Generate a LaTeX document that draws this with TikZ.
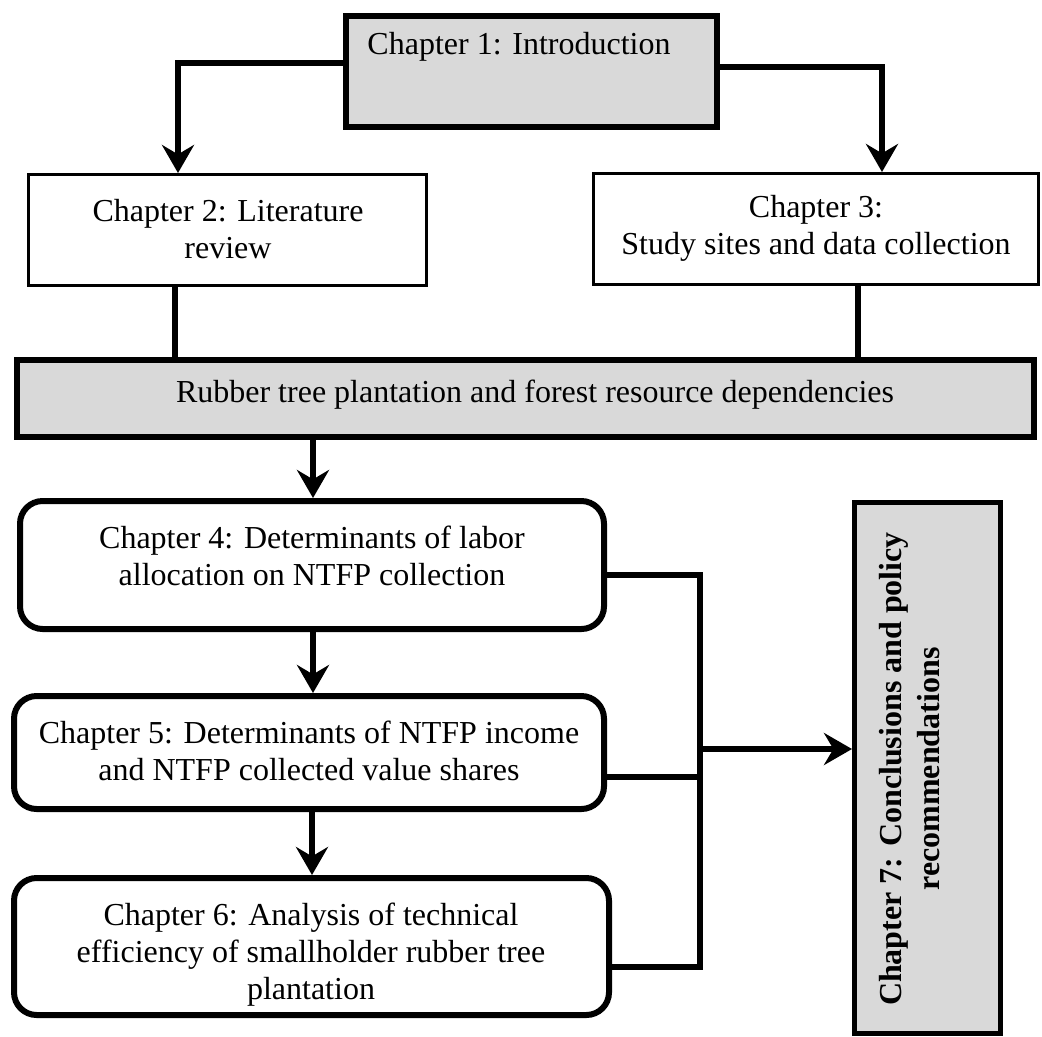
\documentclass[tikz,border=0pt]{standalone}
\usepackage{fontspec}
\setmainfont{Liberation Serif}
\usetikzlibrary{arrows.meta}
\definecolor{boxgray}{RGB}{217,217,217}
\begin{document}
\begin{tikzpicture}[x=0.75pt,y=-0.75pt,
  txt/.style={font=\fontsize{24}{27.75}\selectfont, align=center, inner sep=0pt},
  boldtxt/.style={font=\fontsize{24}{28.5}\selectfont\bfseries, align=center, inner sep=0pt},
  sqbox/.style={draw, line width=2.25pt, inner sep=0pt},
  graybox/.style={draw, line width=4.5pt, fill=boxgray, inner sep=0pt},
  rbox/.style={draw, line width=4.5pt, rounded corners=17pt, inner sep=0pt},
  conn/.style={line width=4pt},
  arr/.style={conn, -{Stealth[length=21pt,width=24pt,inset=7pt]}},
]
\useasboundingbox (0,0) rectangle (1042,1036);
% boxes
\node[graybox, minimum width=278.25pt, minimum height=83.25pt] (ch1) at (531.5,71.5) {};
\node[sqbox, minimum width=298.5pt, minimum height=83.25pt] (ch2) at (227.5,230) {};
\node[sqbox, minimum width=333.75pt, minimum height=83.25pt] (ch3) at (816,229) {};
\node[graybox, minimum width=762.75pt, minimum height=57.75pt] (rub) at (525.5,398.5) {};
\node[rbox, minimum width=438pt, minimum height=96pt] (ch4) at (312,565) {};
\node[rbox, minimum width=442.5pt, minimum height=84.75pt] (ch5) at (309,752.5) {};
\node[rbox, minimum width=446.25pt, minimum height=102.75pt] (ch6) at (311.5,946.5) {};
\node[graybox, line width=3.75pt, minimum width=109.5pt, minimum height=397.9pt] (ch7) at (927.5,767.75) {};
% texts
\node[txt] (t1) at (519,47) {Chapter 1: Introduction};
\node[txt] (t2) at (228,229) {Chapter 2: Literature\\review};
\node[txt] (t3) at (816,228) {Chapter 3:\\Study sites and data collection};
\node[txt] (tr) at (535,395) {Rubber tree plantation and forest resource dependencies};
\node[txt] (t4) at (312,556) {Chapter 4: Determinants of labor\\allocation on NTFP collection};
\node[txt] (t5) at (309,751) {Chapter 5: Determinants of NTFP income\\and NTFP collected value shares};
\node[txt] (t6) at (311,955) {Chapter 6: Analysis of technical\\efficiency of smallholder rubber tree\\plantation};
\node[boldtxt, rotate=90] (t7) at (910,769) {Chapter 7: Conclusions and policy\\recommendations};
% connectors
\draw[arr] (ch1.west |- 0,63) -| (178,0 |- ch2.north);
\draw[arr] (ch1.east |- 0,67) -| (882,0 |- ch3.north);
\draw[conn] (175,0 |- ch2.south) -- (175,0 |- rub.north);
\draw[conn] (858,0 |- ch3.south) -- (858,0 |- rub.north);
\draw[arr] (313,0 |- rub.south) -- (313,0 |- ch4.north);
\draw[arr] (313,0 |- ch4.south) -- (313,0 |- ch5.north);
\draw[arr] (312,0 |- ch5.south) -- (312,0 |- ch6.north);
\draw[conn] (ch4.east |- 0,575) -- (700,575) -- (700,967) -- (ch6.east |- 0,967);
\draw[conn] (ch5.east |- 0,777) -- (700,777);
\coordinate (j) at (700,749);
\draw[arr] (j) -- (ch7.west |- j);
\end{tikzpicture}
\end{document}
